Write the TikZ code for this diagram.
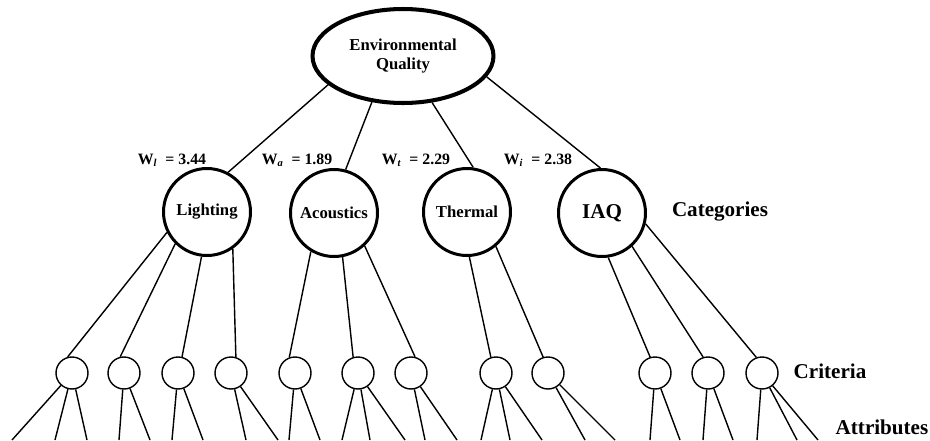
\documentclass[tikz,border=0pt]{standalone}
\usepackage{fontspec}
\setmainfont{Liberation Serif}
\usetikzlibrary{shapes.geometric}

\tikzset{
  goalnode/.style={ellipse, draw, line width=2.3pt, minimum width=3.62cm, minimum height=1.88cm,
    inner sep=0pt, align=center, font=\fontsize{9.5}{11.3}\selectfont\bfseries},
  catnode/.style={circle, draw, line width=1.7pt, minimum size=1.74cm, inner sep=0pt,
    font=\fontsize{9.5}{11}\selectfont\bfseries},
  critnode/.style={circle, draw, line width=0.8pt, minimum size=0.64cm, inner sep=0pt},
  link/.style={line width=0.8pt},
  weight/.style={font=\fontsize{9}{10}\selectfont\bfseries},
  levelname/.style={font=\fontsize{12}{14}\selectfont\bfseries}
}

\begin{document}
\begin{tikzpicture}[x=0.02cm, y=-0.02cm]
    % Fix the page size
    \useasboundingbox (0,0) rectangle (930,440);

    % Draw the goal
    \node[goalnode] (quality) at (403,56) {Environmental\\Quality};

    % Draw the categories
    \node[catnode] (lighting) at (207,212) {Lighting};
    \node[catnode] (acoustics) at (334,213) {Acoustics};
    \node[catnode] (thermal) at (467,212) {Thermal};
    \node[catnode, font=\fontsize{12}{14}\selectfont\bfseries] (iaq) at (602,213) {IAQ};

    % Add the weights
    \node[weight] (wl) at (172,160) {W\textsubscript{\itshape l}\ \ = 3.44};
    \node[weight] (wa) at (297,160) {W\textsubscript{\itshape a}\ \ = 1.89};
    \node[weight] (wt) at (416,160) {W\textsubscript{\itshape t}\ \ = 2.29};
    \node[weight] (wi) at (538,160) {W\textsubscript{\itshape i}\ \ = 2.38};

    % Draw the criteria
    \node[critnode] (crit1) at (72,373) {};
    \node[critnode] (crit2) at (124,373) {};
    \node[critnode] (crit3) at (178,373) {};
    \node[critnode] (crit4) at (231,373) {};
    \node[critnode] (crit5) at (295,373) {};
    \node[critnode] (crit6) at (358,373) {};
    \node[critnode] (crit7) at (411,373) {};
    \node[critnode] (crit8) at (496,373) {};
    \node[critnode] (crit9) at (548,373) {};
    \node[critnode] (crit10) at (655,373) {};
    \node[critnode] (crit11) at (708,373) {};
    \node[critnode] (crit12) at (762,373) {};

    % Connect goal to categories
    \draw[link] (quality.201) -- (lighting.62);
    \draw[link] (quality.236) -- (acoustics.75);
    \draw[link] (quality.302) -- (thermal.82);
    \draw[link] (quality.346) -- (iaq.92);

    % Connect categories to criteria
    \draw[link] (lighting.207) -- (crit1.105);
    \draw[link] (lighting.225) -- (crit2.103);
    \draw[link] (lighting.263) -- (crit3.76);
    \draw[link] (lighting.305) -- (crit4.73);
    \draw[link] (acoustics.239) -- (crit5.110);
    \draw[link] (acoustics.281) -- (crit6.107);
    \draw[link] (acoustics.313) -- (crit7.76);
    \draw[link] (thermal.273) -- (crit8.108);
    \draw[link] (thermal.310) -- (crit9.107);
    \draw[link] (iaq.278) -- (crit10.107);
    \draw[link] (iaq.312) -- (crit11.107);
    \draw[link] (iaq.346) -- (crit12.110);

    % Attribute branches running off the bottom
    \foreach \c/\x [count=\i] in {1/12, 1/55, 1/87, 2/119, 2/150, 3/172, 3/203, 4/246, 4/278,
        5/289, 5/320, 6/342, 6/370, 6/405, 7/425, 7/457, 8/481, 8/510, 8/542, 9/585, 9/615,
        10/650, 10/680, 11/703, 11/733, 12/757, 12/797, 12/818} {
      \coordinate (attr\i) at (\x,440);
      \draw[link] (crit\c) -- (attr\i);
    }

    % Level names
    \node[levelname] (catlabel) at (720,212) {Categories};
    \node[levelname] (critlabel) at (830,371) {Criteria};
    \node[levelname] (attrlabel) at (882,427) {Attributes};
\end{tikzpicture}
\end{document}
